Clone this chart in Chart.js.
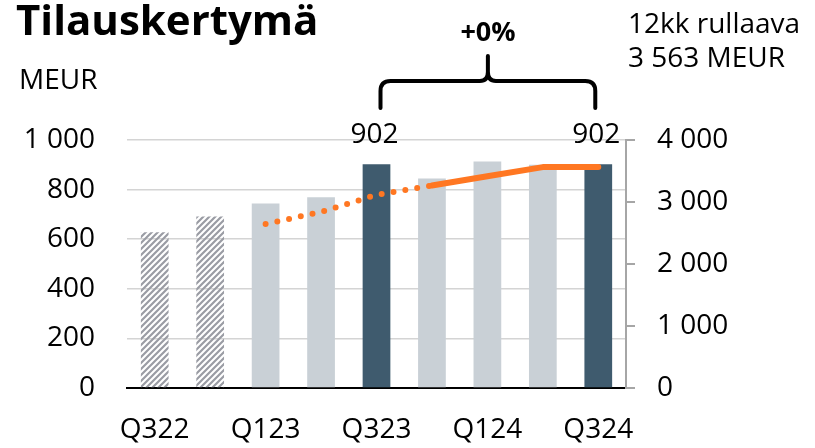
<!DOCTYPE html>
<html>
<head>
<meta charset="utf-8">
<script src="https://cdn.jsdelivr.net/npm/chart.js@4.4.1/dist/chart.umd.min.js"></script>
<style>
  html, body { margin: 0; padding: 0; background: #fff; }
  #wrap { position: relative; width: 815px; height: 448px; font-family: 'Open Sans', sans-serif; color: #000; }
  #wrap canvas { position: absolute; left: 0; top: 0; }
  .txt { position: absolute; white-space: nowrap; }
  #title { left: 16px; top: -2px; font-size: 42px; line-height: 42px; font-weight: 700; }
  #unit { left: 19px; top: 64px; font-size: 28px; line-height: 28px; }
  #note { left: 628px; top: 5px; font-size: 28px; line-height: 34px; }
  #change { left: 488px; top: 17px; font-size: 27px; line-height: 27px; font-weight: 700; transform: translateX(-50%); }
</style>
</head>
<body>
<div id="wrap">
  <canvas id="myChart" width="815" height="448"></canvas>
  <div class="txt" id="title">Tilauskertymä</div>
  <div class="txt" id="unit">MEUR</div>
  <div class="txt" id="note">12kk rullaava<br>3 563 MEUR</div>
  <div class="txt" id="change">+0%</div>
</div>
<script>
const quarters = ['Q322', 'Q422', 'Q123', 'Q223', 'Q323', 'Q423', 'Q124', 'Q224', 'Q324'];
const orderIntake = [628, 692, 744, 769, 902, 845, 913, 900, 902];
const rollingEarly = [null, null, 2645, 2840, 3115, 3265, null, null, null];
const rollingLate = [null, null, null, null, null, 3265, 3415, 3563, 3563];
const leftTicks = [0, 200, 400, 600, 800, 1000];
const rightTicks = [0, 1000, 2000, 3000, 4000];

const fmt = (v) => String(v).replace(/\B(?=(\d{3})+(?!\d))/g, ' ');

// hatch for the older quarters
const tile = document.createElement('canvas');
tile.width = 6;
tile.height = 6;
const tctx = tile.getContext('2d');
tctx.strokeStyle = '#9a9ca4';
tctx.lineWidth = 2.2;
tctx.beginPath();
tctx.moveTo(-1, 7); tctx.lineTo(7, -1);
tctx.moveTo(-4, 4); tctx.lineTo(4, -4);
tctx.moveTo(2, 10); tctx.lineTo(10, 2);
tctx.stroke();
const hatch = tctx.createPattern(tile, 'repeat');

const light = '#c9d0d6';
const dark = '#3f5b6e';
const orange = '#ff7722';
const barColors = [hatch, hatch, light, light, dark, light, light, light, dark];

const annotations = {
  id: 'annotations',
  afterDatasetsDraw(chart) {
    const ctx = chart.ctx;
    const bars = chart.getDatasetMeta(2).data;
    const a = bars[4], b = bars[8];
    ctx.save();
    ctx.fillStyle = '#000';
    ctx.font = '28px "Open Sans"';
    ctx.textAlign = 'center';
    ctx.textBaseline = 'alphabetic';
    ctx.fillText(fmt(orderIntake[4]), a.x - 2, a.y - 21);
    ctx.fillText(fmt(orderIntake[8]), b.x - 2, b.y - 21);

    // brace between the two compared quarters
    const x1 = a.x + 4, x2 = b.x - 3, xm = (x1 + x2) / 2;
    const yb = 108, yh = 81, yp = 56;
    ctx.strokeStyle = '#000';
    ctx.lineWidth = 4;
    ctx.lineCap = 'round';
    ctx.lineJoin = 'round';
    ctx.beginPath();
    ctx.moveTo(x1, yb);
    ctx.lineTo(x1, yh + 10);
    ctx.quadraticCurveTo(x1, yh, x1 + 10, yh);
    ctx.lineTo(xm - 8, yh);
    ctx.quadraticCurveTo(xm, yh, xm, yh - 9);
    ctx.lineTo(xm, yp);
    ctx.moveTo(xm, yh - 9);
    ctx.quadraticCurveTo(xm, yh, xm + 8, yh);
    ctx.lineTo(x2 - 10, yh);
    ctx.quadraticCurveTo(x2, yh, x2, yh + 10);
    ctx.lineTo(x2, yb);
    ctx.stroke();
    ctx.restore();
  }
};

new Chart('myChart', {
  type: 'bar',
  data: {
    labels: quarters,
    datasets: [
      {
        type: 'line',
        data: rollingEarly,
        yAxisID: 'y2',
        borderColor: orange,
        borderWidth: 6,
        borderDash: [0, 12],
        borderCapStyle: 'round',
        pointRadius: 0,
        spanGaps: false,
        order: 0,
      },
      {
        type: 'line',
        data: rollingLate,
        yAxisID: 'y2',
        borderColor: orange,
        borderWidth: 6,
        borderCapStyle: 'round',
        borderJoinStyle: 'round',
        pointRadius: 0,
        order: 0,
      },
      {
        data: orderIntake,
        yAxisID: 'y',
        backgroundColor: barColors,
        barPercentage: 0.5,
        categoryPercentage: 1,
        order: 1,
      },
    ],
  },
  options: {
    responsive: false,
    animation: false,
    layout: { padding: { top: 140, left: 0, right: 0, bottom: 0 } },
    scales: {
      x: {
        grid: { display: false, drawTicks: false },
        border: { display: true, color: '#000', width: 2 },
        ticks: {
          autoSkip: false,
          maxRotation: 0,
          padding: 25,
          color: '#000',
          font: { family: 'Open Sans', size: 28 },
          callback: (v, i) => (i % 2 === 0 ? quarters[i] : ''),
        },
        afterFit: (s) => { s.height = 60; },
      },
      y: {
        position: 'left',
        min: 0,
        max: 1000,
        afterBuildTicks: (s) => { s.ticks = leftTicks.map((v) => ({ value: v })); },
        grid: { color: '#d4d4d4', lineWidth: 1.5, drawTicks: false },
        border: { display: false },
        ticks: {
          padding: 32,
          color: '#000',
          font: { family: 'Open Sans', size: 28 },
          callback: (v) => fmt(v),
        },
        afterFit: (s) => { s.width = 127; },
      },
      y2: {
        position: 'right',
        min: 0,
        max: 4000,
        afterBuildTicks: (s) => { s.ticks = rightTicks.map((v) => ({ value: v })); },
        grid: { drawOnChartArea: false, color: '#a6a6a6', lineWidth: 2, tickLength: 9 },
        border: { display: true, color: '#a6a6a6', width: 2 },
        ticks: {
          padding: 22,
          color: '#000',
          font: { family: 'Open Sans', size: 28 },
          callback: (v) => fmt(v),
        },
        afterFit: (s) => { s.width = 189; },
      },
    },
    plugins: {
      legend: { display: false },
      tooltip: { enabled: false },
    },
  },
  plugins: [annotations],
});
</script>
</body>
</html>
